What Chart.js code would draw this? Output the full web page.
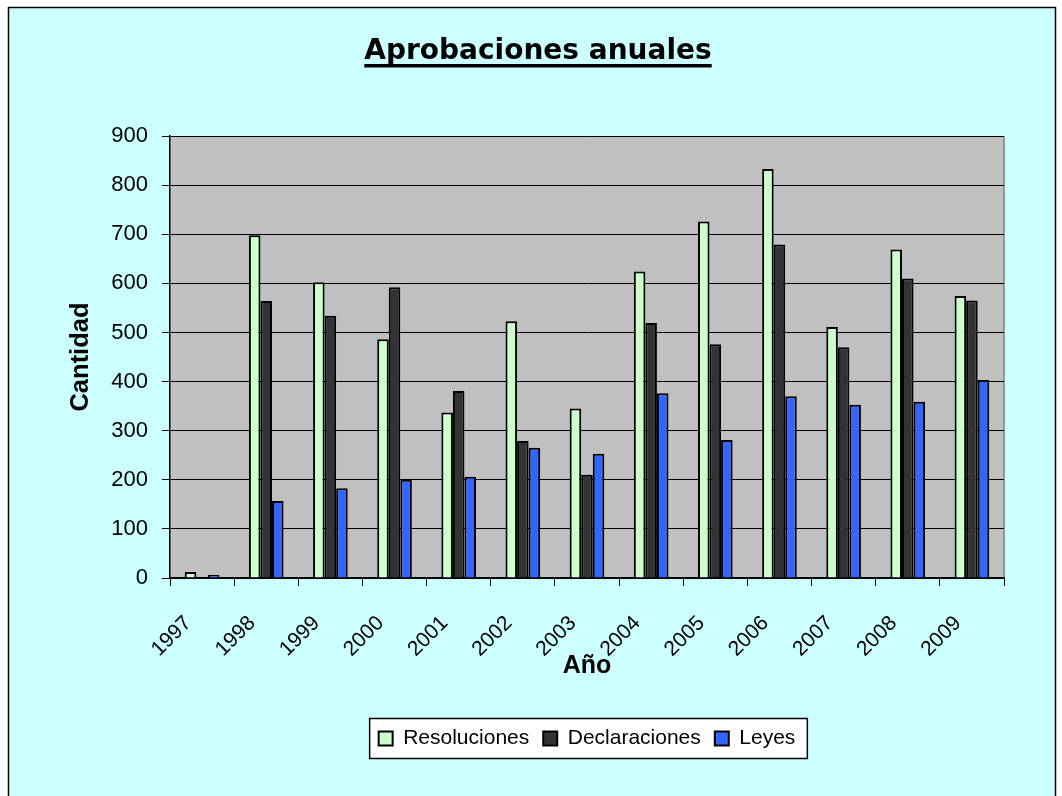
<!DOCTYPE html>
<html><head><meta charset="utf-8">
<script src="https://cdn.jsdelivr.net/npm/chart.js@4/dist/chart.umd.min.js"></script>
<style>html,body{margin:0;padding:0;background:#fff;overflow:hidden}#wrap{width:1062px;height:796px;}</style>
</head><body><div id="wrap"><canvas id="c" width="1062" height="796"></canvas></div>
<script>
const years = ['1997','1998','1999','2000','2001','2002','2003','2004','2005','2006','2007','2008','2009'];
const resoluciones = [12, 698, 602, 486, 337, 523, 345, 624, 726, 833, 511, 669, 574];
const declaraciones = [2, 564, 534, 592, 381, 279, 210, 519, 476, 679, 470, 610, 565];
const leyes = [6, 157, 183, 200, 206, 265, 253, 376, 281, 370, 353, 359, 403];
const seriesNames = ['Resoluciones', 'Declaraciones', 'Leyes'];
const titleText = 'Aprobaciones anuales';
const yTitle = 'Cantidad';
const xTitle = 'Año';

const SANS = "'Liberation Sans', Arial, sans-serif";

const framePlugin = {
  id: 'frame',
  beforeDraw(chart) {
    const ctx = chart.ctx, a = chart.chartArea;
    ctx.save();
    ctx.fillStyle = '#fff'; ctx.fillRect(0, 0, chart.width, chart.height);
    ctx.fillStyle = '#CCFFFF'; ctx.fillRect(8, 7, 1048, 800);
    ctx.strokeStyle = '#000'; ctx.lineWidth = 1.5; ctx.strokeRect(8.5, 7.5, 1047, 800);
    ctx.fillStyle = '#C0C0C0'; ctx.fillRect(a.left, a.top, a.right - a.left, a.bottom - a.top);
    ctx.strokeStyle = '#808080'; ctx.lineWidth = 1.5;
    ctx.beginPath(); ctx.moveTo(a.right, a.top); ctx.lineTo(a.right, a.bottom); ctx.stroke();
    const hb = chart.legend && chart.legend.legendHitBoxes;
    if (hb && hb.length) {
      const last = hb[hb.length - 1];
      const l = hb[0].left - 9, r = last.left + last.width + 12;
      const cy = hb[0].top + hb[0].height / 2;
      ctx.fillStyle = '#fff'; ctx.fillRect(l, cy - 20, r - l, 40);
      ctx.strokeStyle = '#000'; ctx.lineWidth = 1.5; ctx.strokeRect(l, cy - 20, r - l, 40);
    }
    ctx.restore();
  },
  afterDraw(chart) {
    const ctx = chart.ctx, tb = chart.titleBlock;
    ctx.save();
    ctx.font = 'bold 28px "DejaVu Sans"';
    const w = ctx.measureText(titleText).width;
    const cx = (tb.left + tb.right) / 2;
    ctx.fillStyle = '#000';
    ctx.fillRect(cx - w / 2, 64, w, 3.5);
    ctx.restore();
  }
};

new Chart(document.getElementById('c'), {
  type: 'bar',
  data: {
    labels: years,
    datasets: [
      { label: seriesNames[0], data: resoluciones, backgroundColor: '#CCFFCC', borderColor: '#000', borderWidth: 2 },
      { label: seriesNames[1], data: declaraciones, backgroundColor: '#333333', borderColor: '#000', borderWidth: 2 },
      { label: seriesNames[2], data: leyes, backgroundColor: '#3366FF', borderColor: '#000', borderWidth: 2 }
    ]
  },
  options: {
    responsive: false,
    animation: false,
    devicePixelRatio: 1,
    layout: { padding: { left: 30, right: 16, top: 8, bottom: 37 } },
    datasets: { bar: { categoryPercentage: 0.54, barPercentage: 1 } },
    plugins: {
      tooltip: { enabled: false },
      title: {
        display: true, text: titleText, color: '#000',
        font: { family: 'DejaVu Sans', weight: 'bold', size: 28, lineHeight: 1.2 },
        padding: { top: 27, bottom: 67.4 }
      },
      legend: {
        position: 'bottom', fullSize: false,
        labels: {
          color: '#000', font: { family: SANS, size: 21 },
          boxWidth: 14, boxHeight: 14, padding: 14
        }
      }
    },
    scales: {
      x: {
        grid: { display: true, drawOnChartArea: false, color: '#000', tickLength: 8, offset: true },
        border: { display: true, color: '#000', width: 1.5 },
        ticks: {
          color: '#000', font: { family: SANS, size: 21 },
          maxRotation: 45, minRotation: 45, autoSkip: false, padding: 25, labelOffset: -14
        },
        title: {
          display: true, text: xTitle, color: '#000',
          font: { family: SANS, weight: 'bold', size: 25, lineHeight: 1 },
          padding: { top: 0, bottom: 35.5 }
        },
        afterFit(s) { s.height = 136; }
      },
      y: {
        min: 0, max: 900,
        grid: { color: '#000', tickLength: 8 },
        border: { display: true, color: '#000', width: 1.5 },
        ticks: { stepSize: 100, color: '#000', font: { family: SANS, size: 22 }, padding: 14 },
        title: {
          display: true, text: yTitle, color: '#000',
          font: { family: SANS, weight: 'bold', size: 25.5, lineHeight: 1 },
          padding: { top: 38, bottom: 0 }
        },
        afterFit(s) { s.width = 140; }
      },
      y2: {
        position: 'right', display: true,
        grid: { display: false }, border: { display: false },
        ticks: { display: false },
        afterFit(s) { s.width = 42; }
      }
    }
  },
  plugins: [framePlugin]
});
</script>
</body></html>
